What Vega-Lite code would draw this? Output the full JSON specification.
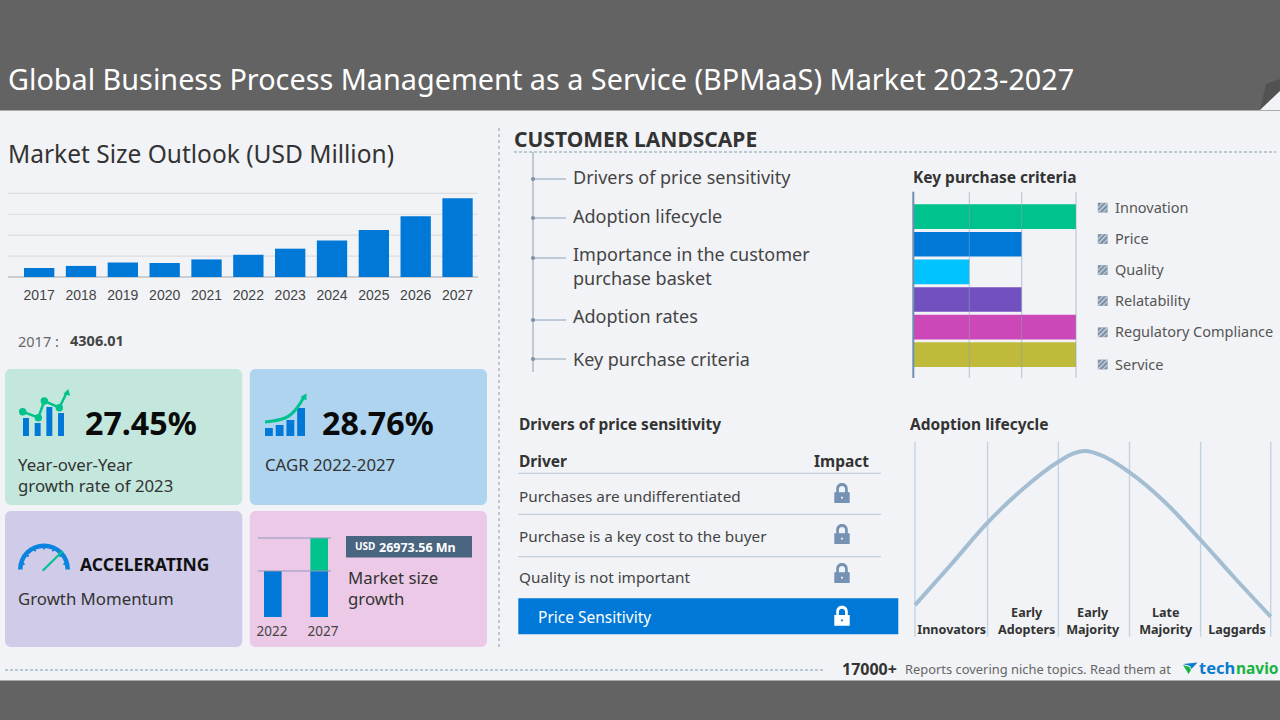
{
  "$schema": "https://vega.github.io/schema/vega-lite/v6.json",
  "width": 1280,
  "height": 720,
  "padding": 0,
  "autosize": "none",
  "background": "#636363",
  "view": {"stroke": null},
  "config": {"font": "Noto Sans", "text": {"align": "left", "baseline": "middle", "font": "Noto Sans", "dy": 1}},
  "resolve": {
    "scale": {"x": "independent", "y": "independent", "color": "independent"},
    "axis": {"x": "independent", "y": "independent"}
  },
  "layer": [
    {
      "data": {"values": [{"zone": "body"}]},
      "mark": {"type": "rect", "color": "#f2f3f6"},
      "encoding": {"y": {"field": "zone", "type": "nominal", "scale": {"range": [110.5, 680.5], "padding": 0}, "axis": null}}
    },
    {
      "data": {"values": [{"part": "flap"}]},
      "mark": {"type": "point", "filled": true, "opacity": 1, "size": 400, "strokeWidth": 0, "color": "#525252", "shape": "M-1,1.5 L-0.4,-1.1 L1,-1.6 L1,-0.4 Z"},
      "encoding": {
        "x": {"datum": 0, "scale": {"domain": [0, 1], "range": [1270, 1271]}, "axis": null},
        "y": {"datum": 0, "scale": {"domain": [0, 1], "range": [95, 96]}, "axis": null}
      }
    },
    {
      "data": {"values": [{"part": "corner"}]},
      "mark": {"type": "point", "filled": true, "opacity": 1, "size": 400, "strokeWidth": 0, "color": "#f2f3f6", "shape": "M-1,1 L1,-0.9 L1,1 Z"},
      "encoding": {
        "x": {"datum": 0, "scale": {"domain": [0, 1], "range": [1270, 1271]}, "axis": null},
        "y": {"datum": 0, "scale": {"domain": [0, 1], "range": [100, 101]}, "axis": null}
      }
    },
    {
      "data": {"values": [{"text": "Global Business Process Management as a Service (BPMaaS) Market 2023-2027"}]},
      "mark": {"type": "text", "fontSize": 28.8, "color": "#ffffff"},
      "encoding": {
        "x": {"datum": 0, "scale": {"domain": [0, 1], "range": [8, 9]}, "axis": null},
        "y": {"datum": 0, "scale": {"domain": [0, 1], "range": [80, 81]}, "axis": null},
        "text": {"field": "text"}
      }
    },
    {
      "data": {"values": [{"text": "Market Size Outlook (USD Million)"}]},
      "mark": {"type": "text", "fontSize": 24.5, "color": "#333333"},
      "encoding": {
        "x": {"datum": 0, "scale": {"domain": [0, 1], "range": [8, 9]}, "axis": null},
        "y": {"datum": 0, "scale": {"domain": [0, 1], "range": [154.5, 155.5]}, "axis": null},
        "text": {"field": "text"}
      }
    },
    {
      "data": {"values": [{"level": 10000}, {"level": 20000}, {"level": 30000}, {"level": 40000}]},
      "mark": {"type": "rule", "color": "#dcdde0", "strokeWidth": 1.2},
      "encoding": {
        "x": {"datum": 0, "scale": {"domain": [0, 1], "range": [8, 478]}, "axis": null},
        "x2": {"datum": 1},
        "y": {"field": "level", "type": "quantitative", "scale": {"domain": [0, 40000], "range": [277, 193.3]}, "axis": null}
      }
    },
    {
      "data": {"values": [{"level": 0}]},
      "mark": {"type": "rule", "color": "#cccdd0", "strokeWidth": 2},
      "encoding": {
        "x": {"datum": 0, "scale": {"domain": [0, 1], "range": [8, 478]}, "axis": null},
        "x2": {"datum": 1},
        "y": {"field": "level", "type": "quantitative", "scale": {"domain": [0, 40000], "range": [277, 193.3]}, "axis": null}
      }
    },
    {
      "data": {"values": [
        {"year": "2017", "size": 4306.01},
        {"year": "2018", "size": 5300},
        {"year": "2019", "size": 6900},
        {"year": "2020", "size": 6700},
        {"year": "2021", "size": 8400},
        {"year": "2022", "size": 10620},
        {"year": "2023", "size": 13535},
        {"year": "2024", "size": 17500},
        {"year": "2025", "size": 22500},
        {"year": "2026", "size": 29000},
        {"year": "2027", "size": 37594}
      ]},
      "mark": {"type": "bar", "color": "#0078d7"},
      "encoding": {
        "x": {
          "field": "year",
          "type": "nominal",
          "scale": {"range": [24, 472.7], "paddingInner": 0.275, "paddingOuter": 0},
          "axis": {"orient": "bottom", "offset": -443, "zindex": 1, "title": null, "domain": false, "ticks": false, "labelAngle": 0, "labelFont": "Liberation Sans", "labelFontSize": 14, "labelColor": "#444444", "labelPadding": 11}
        },
        "y": {"field": "size", "type": "quantitative", "scale": {"domain": [0, 40000], "range": [277, 193.3]}, "axis": null}
      }
    },
    {
      "data": {"values": [{"text": "2017 :"}]},
      "mark": {"type": "text", "fontSize": 14.5, "color": "#666666"},
      "encoding": {
        "x": {"datum": 0, "scale": {"domain": [0, 1], "range": [18, 19]}, "axis": null},
        "y": {"datum": 0, "scale": {"domain": [0, 1], "range": [342, 343]}, "axis": null},
        "text": {"field": "text"}
      }
    },
    {
      "data": {"values": [{"text": "4306.01"}]},
      "mark": {"type": "text", "fontSize": 14.5, "fontWeight": "bold", "color": "#444444"},
      "encoding": {
        "x": {"datum": 0, "scale": {"domain": [0, 1], "range": [70, 71]}, "axis": null},
        "y": {"datum": 0, "scale": {"domain": [0, 1], "range": [341, 342]}, "axis": null},
        "text": {"field": "text"}
      }
    },
    {
      "data": {"values": [
        {"col": "left", "row": "top", "card": "growth"},
        {"col": "right", "row": "top", "card": "cagr"},
        {"col": "left", "row": "bottom", "card": "momentum"},
        {"col": "right", "row": "bottom", "card": "increment"}
      ]},
      "mark": {"type": "rect", "cornerRadius": 6},
      "encoding": {
        "x": {"field": "col", "type": "nominal", "sort": ["left", "right"], "scale": {"range": [5, 487], "paddingInner": 0.0306, "paddingOuter": 0}, "axis": null},
        "y": {"field": "row", "type": "nominal", "sort": ["top", "bottom"], "scale": {"range": [369, 647], "paddingInner": 0.042, "paddingOuter": 0}, "axis": null},
        "color": {"field": "card", "type": "nominal", "scale": {"domain": ["growth", "cagr", "momentum", "increment"], "range": ["#c3e7dc", "#aed4ef", "#d0cbe9", "#ecc9e6"]}, "legend": null}
      }
    },
    {
      "data": {"values": [{"bar": "a", "level": 18}, {"bar": "b", "level": 13}, {"bar": "c", "level": 29}, {"bar": "d", "level": 23}]},
      "mark": {"type": "bar", "color": "#0078d7"},
      "encoding": {
        "x": {"field": "bar", "type": "nominal", "scale": {"range": [23, 64], "paddingInner": 0.49, "paddingOuter": 0}, "axis": null},
        "y": {"field": "level", "type": "quantitative", "scale": {"domain": [0, 50], "range": [436, 386]}, "axis": null}
      }
    },
    {
      "data": {"values": [{"step": 0, "level": 24.3}, {"step": 1, "level": 18.3}, {"step": 2, "level": 35}, {"step": 3, "level": 28.3}, {"step": 4, "level": 44}]},
      "mark": {"type": "line", "color": "#00c28c", "strokeWidth": 2.5},
      "encoding": {
        "x": {"field": "step", "type": "quantitative", "scale": {"domain": [0, 1, 2, 3, 4], "range": [22.7, 38.3, 44.3, 59.3, 67]}, "axis": null},
        "y": {"field": "level", "type": "quantitative", "scale": {"domain": [0, 50], "range": [436, 386]}, "axis": null}
      }
    },
    {
      "data": {"values": [{"step": 0, "level": 24.3}, {"step": 1, "level": 18.3}, {"step": 2, "level": 35}, {"step": 3, "level": 28.3}]},
      "mark": {"type": "point", "filled": true, "opacity": 1, "size": 55, "color": "#00c28c"},
      "encoding": {
        "x": {"field": "step", "type": "quantitative", "scale": {"domain": [0, 1, 2, 3, 4], "range": [22.7, 38.3, 44.3, 59.3, 67]}, "axis": null},
        "y": {"field": "level", "type": "quantitative", "scale": {"domain": [0, 50], "range": [436, 386]}, "axis": null}
      }
    },
    {
      "data": {"values": [{"tip": "growth"}]},
      "mark": {"type": "point", "filled": true, "opacity": 1, "size": 50, "shape": "triangle-up", "angle": 15, "color": "#00c28c"},
      "encoding": {
        "x": {"datum": 0, "scale": {"domain": [0, 1], "range": [67.5, 68.5]}, "axis": null},
        "y": {"datum": 0, "scale": {"domain": [0, 1], "range": [392, 393]}, "axis": null}
      }
    },
    {
      "data": {"values": [{"text": "27.45%", "col": 0}, {"text": "28.76%", "col": 1}]},
      "mark": {"type": "text", "fontSize": 32.2, "fontWeight": "bold", "color": "#0a0a0a"},
      "encoding": {
        "x": {"field": "col", "type": "quantitative", "scale": {"domain": [0, 1], "range": [85, 322]}, "axis": null},
        "y": {"datum": 0, "scale": {"domain": [0, 1], "range": [424, 425]}, "axis": null},
        "text": {"field": "text"}
      }
    },
    {
      "data": {"values": [
        {"text": "Year-over-Year", "col": 0, "line": 0},
        {"text": "growth rate of 2023", "col": 0, "line": 1},
        {"text": "CAGR  2022-2027", "col": 1, "line": 0},
        {"text": "Growth Momentum", "col": 0, "line": 3},
        {"text": "Market size", "col": 2, "line": 2},
        {"text": "growth", "col": 2, "line": 3}
      ]},
      "mark": {"type": "text", "fontSize": 16.8, "color": "#333333"},
      "encoding": {
        "x": {"field": "col", "type": "quantitative", "scale": {"domain": [0, 1, 2], "range": [18, 265, 348]}, "axis": null},
        "y": {"field": "line", "type": "quantitative", "scale": {"domain": [0, 1, 2, 3], "range": [465, 486, 578, 599]}, "axis": null},
        "text": {"field": "text"}
      }
    },
    {
      "data": {"values": [{"bar": "a", "level": 8}, {"bar": "b", "level": 11}, {"bar": "c", "level": 16}, {"bar": "d", "level": 28}]},
      "mark": {"type": "bar", "color": "#0078d7"},
      "encoding": {
        "x": {"field": "bar", "type": "nominal", "scale": {"range": [265, 305], "paddingInner": 0.27, "paddingOuter": 0}, "axis": null},
        "y": {"field": "level", "type": "quantitative", "scale": {"domain": [0, 50], "range": [436, 386]}, "axis": null}
      }
    },
    {
      "data": {"values": [{"step": 0, "level": 14}, {"step": 1, "level": 18}, {"step": 2, "level": 28}, {"step": 3, "level": 39}]},
      "mark": {"type": "line", "color": "#00c28c", "strokeWidth": 3, "interpolate": "monotone"},
      "encoding": {
        "x": {"field": "step", "type": "quantitative", "scale": {"domain": [0, 1, 2, 3], "range": [265, 285, 297, 304]}, "axis": null},
        "y": {"field": "level", "type": "quantitative", "scale": {"domain": [0, 50], "range": [436, 386]}, "axis": null}
      }
    },
    {
      "data": {"values": [{"tip": "cagr"}]},
      "mark": {"type": "point", "filled": true, "opacity": 1, "size": 50, "shape": "triangle-up", "angle": 30, "color": "#00c28c"},
      "encoding": {
        "x": {"datum": 0, "scale": {"domain": [0, 1], "range": [305, 306]}, "axis": null},
        "y": {"datum": 0, "scale": {"domain": [0, 1], "range": [396, 397]}, "axis": null}
      }
    },
    {
      "data": {"values": [{"dial": "momentum"}]},
      "mark": {"type": "arc", "theta": -1.57, "theta2": 1.57, "radius": 26, "radius2": 21.5, "color": "#0a84e0"},
      "encoding": {
        "x": {"datum": 0, "scale": {"domain": [0, 1], "range": [44, 45]}, "axis": null},
        "y": {"datum": 0, "scale": {"domain": [0, 1], "range": [569.5, 570.5]}, "axis": null}
      }
    },
    {
      "data": {"values": [{"tick": 0}, {"tick": 1}, {"tick": 2}, {"tick": 3}, {"tick": 4}, {"tick": 5}, {"tick": 6}]},
      "mark": {"type": "point", "filled": true, "opacity": 1, "size": 5, "strokeWidth": 0, "color": "#0a84e0"},
      "encoding": {
        "x": {"field": "tick", "type": "quantitative", "scale": {"domain": [0, 1, 2, 3, 4, 5, 6], "range": [23.7, 27.9, 35.1, 44, 52.9, 60.1, 64.3]}, "axis": null},
        "y": {"field": "tick", "type": "quantitative", "scale": {"domain": [0, 1, 2, 3, 4, 5, 6], "range": [564.1, 556, 550.5, 548.5, 550.5, 556, 564.1]}, "axis": null}
      }
    },
    {
      "data": {"values": [{"dial": "needle"}]},
      "mark": {"type": "rule", "color": "#00c28c", "strokeWidth": 2.2},
      "encoding": {
        "x": {"datum": 0, "scale": {"domain": [0, 1], "range": [42.7, 62.7]}, "axis": null},
        "x2": {"datum": 1},
        "y": {"datum": 0, "scale": {"domain": [0, 1], "range": [570.7, 551]}, "axis": null},
        "y2": {"datum": 1}
      }
    },
    {
      "data": {"values": [{"text": "ACCELERATING"}]},
      "mark": {"type": "text", "fontSize": 17.5, "fontWeight": "bold", "color": "#111111"},
      "encoding": {
        "x": {"datum": 0, "scale": {"domain": [0, 1], "range": [80, 81]}, "axis": null},
        "y": {"datum": 0, "scale": {"domain": [0, 1], "range": [565, 566]}, "axis": null},
        "text": {"field": "text"}
      }
    },
    {
      "data": {"values": [
        {"year": "2022", "part": "base", "from": 0, "to": 10620},
        {"year": "2027", "part": "base", "from": 0, "to": 10620},
        {"year": "2027", "part": "growth", "from": 10620, "to": 37594}
      ]},
      "mark": {"type": "bar"},
      "encoding": {
        "x": {"field": "year", "type": "nominal", "scale": {"range": [264, 328], "paddingInner": 0.62, "paddingOuter": 0}, "axis": null},
        "y": {"field": "from", "type": "quantitative", "scale": {"domain": [0, 10620, 37594], "range": [617, 571, 538]}, "axis": null},
        "y2": {"field": "to"},
        "color": {"field": "part", "type": "nominal", "scale": {"domain": ["base", "growth"], "range": ["#0078d7", "#00c28c"]}, "legend": null}
      }
    },
    {
      "data": {"values": [{"level": 10620}, {"level": 37594}]},
      "mark": {"type": "rule", "color": "#8f97bd", "strokeWidth": 1},
      "encoding": {
        "x": {"datum": 0, "scale": {"domain": [0, 1], "range": [258, 331]}, "axis": null},
        "x2": {"datum": 1},
        "y": {"field": "level", "type": "quantitative", "scale": {"domain": [0, 10620, 37594], "range": [617, 571, 538]}, "axis": null}
      }
    },
    {
      "data": {"values": [{"text": "2022", "col": 0}, {"text": "2027", "col": 1}]},
      "mark": {"type": "text", "fontSize": 13.5, "align": "center", "color": "#444444"},
      "encoding": {
        "x": {"field": "col", "type": "quantitative", "scale": {"domain": [0, 1], "range": [272, 323]}, "axis": null},
        "y": {"datum": 0, "scale": {"domain": [0, 1], "range": [631, 632]}, "axis": null},
        "text": {"field": "text"}
      }
    },
    {
      "data": {"values": [{"box": "increment"}]},
      "mark": {"type": "rect", "color": "#4a6580"},
      "encoding": {
        "x": {"field": "box", "type": "nominal", "scale": {"range": [346, 472], "padding": 0}, "axis": null},
        "y": {"field": "box", "type": "nominal", "scale": {"range": [536, 557.5], "padding": 0}, "axis": null}
      }
    },
    {
      "data": {"values": [{"text": "USD"}]},
      "mark": {"type": "text", "fontSize": 10, "fontWeight": "bold", "color": "#ffffff"},
      "encoding": {
        "x": {"datum": 0, "scale": {"domain": [0, 1], "range": [355, 356]}, "axis": null},
        "y": {"datum": 0, "scale": {"domain": [0, 1], "range": [546, 547]}, "axis": null},
        "text": {"field": "text"}
      }
    },
    {
      "data": {"values": [{"text": "26973.56 Mn"}]},
      "mark": {"type": "text", "fontSize": 12.5, "fontWeight": "bold", "color": "#ffffff"},
      "encoding": {
        "x": {"datum": 0, "scale": {"domain": [0, 1], "range": [379, 380]}, "axis": null},
        "y": {"datum": 0, "scale": {"domain": [0, 1], "range": [547, 548]}, "axis": null},
        "text": {"field": "text"}
      }
    },
    {
      "data": {"values": [{"divider": "panels"}]},
      "mark": {"type": "rule", "color": "#7f9fb0", "strokeWidth": 1, "strokeDash": [3, 3]},
      "encoding": {
        "x": {"datum": 0, "scale": {"domain": [0, 1], "range": [499, 500]}, "axis": null},
        "y": {"datum": 0, "scale": {"domain": [0, 1], "range": [128, 648]}, "axis": null},
        "y2": {"datum": 1}
      }
    },
    {
      "data": {"values": [{"from": 0, "to": 1, "at": 0}, {"from": 2, "to": 3, "at": 1}]},
      "mark": {"type": "rule", "color": "#7f9fb0", "strokeWidth": 1, "strokeDash": [3, 2]},
      "encoding": {
        "x": {"field": "from", "type": "quantitative", "scale": {"domain": [0, 1, 2, 3], "range": [514, 1276, 5, 825]}, "axis": null},
        "x2": {"field": "to"},
        "y": {"field": "at", "type": "quantitative", "scale": {"domain": [0, 1], "range": [152, 670]}, "axis": null}
      }
    },
    {
      "data": {"values": [{"text": "CUSTOMER  LANDSCAPE"}]},
      "mark": {"type": "text", "fontSize": 21, "fontWeight": "bold", "color": "#333333"},
      "encoding": {
        "x": {"datum": 0, "scale": {"domain": [0, 1], "range": [514, 515]}, "axis": null},
        "y": {"datum": 0, "scale": {"domain": [0, 1], "range": [140, 141]}, "axis": null},
        "text": {"field": "text"}
      }
    },
    {
      "data": {"values": [{"spine": "list"}]},
      "mark": {"type": "rule", "color": "#8ba0b5", "strokeWidth": 1},
      "encoding": {
        "x": {"datum": 0, "scale": {"domain": [0, 1], "range": [533, 534]}, "axis": null},
        "y": {"datum": 0, "scale": {"domain": [0, 1], "range": [152, 372]}, "axis": null},
        "y2": {"datum": 1}
      }
    },
    {
      "data": {"values": [{"item": 0}, {"item": 1}, {"item": 2}, {"item": 3}, {"item": 4}]},
      "mark": {"type": "rule", "color": "#8ba0b5", "strokeWidth": 1},
      "encoding": {
        "x": {"datum": 0, "scale": {"domain": [0, 1], "range": [533, 566]}, "axis": null},
        "x2": {"datum": 1},
        "y": {"field": "item", "type": "quantitative", "scale": {"domain": [0, 1, 2, 3, 4], "range": [179, 218, 258, 320, 359]}, "axis": null}
      }
    },
    {
      "data": {"values": [{"item": 0}, {"item": 1}, {"item": 2}, {"item": 3}, {"item": 4}]},
      "mark": {"type": "point", "filled": true, "opacity": 1, "size": 18, "color": "#7d93a9"},
      "encoding": {
        "x": {"datum": 0, "scale": {"domain": [0, 1], "range": [533, 534]}, "axis": null},
        "y": {"field": "item", "type": "quantitative", "scale": {"domain": [0, 1, 2, 3, 4], "range": [179, 218, 258, 320, 359]}, "axis": null}
      }
    },
    {
      "data": {"values": [
        {"text": "Drivers of price sensitivity", "line": 0},
        {"text": "Adoption lifecycle", "line": 1},
        {"text": "Importance in the customer", "line": 2},
        {"text": "purchase basket", "line": 3},
        {"text": "Adoption rates", "line": 4},
        {"text": "Key purchase criteria", "line": 5}
      ]},
      "mark": {"type": "text", "fontSize": 18, "color": "#444444"},
      "encoding": {
        "x": {"datum": 0, "scale": {"domain": [0, 1], "range": [573, 574]}, "axis": null},
        "y": {"field": "line", "type": "quantitative", "scale": {"domain": [0, 1, 2, 3, 4, 5], "range": [178, 217, 255, 279, 317, 360]}, "axis": null},
        "text": {"field": "text"}
      }
    },
    {
      "data": {"values": [
        {"criterion": "Innovation", "score": 3},
        {"criterion": "Price", "score": 2},
        {"criterion": "Quality", "score": 1},
        {"criterion": "Relatability", "score": 2},
        {"criterion": "Regulatory Compliance", "score": 3},
        {"criterion": "Service", "score": 3}
      ]},
      "mark": {"type": "bar"},
      "encoding": {
        "x": {"field": "score", "type": "quantitative", "scale": {"domain": [0, 1, 2, 3], "range": [913.3, 969.3, 1021.7, 1076]}, "axis": null},
        "y": {"field": "criterion", "type": "nominal", "sort": null, "scale": {"range": [204.3, 367], "paddingInner": 0.107, "paddingOuter": 0}, "axis": null},
        "color": {"field": "criterion", "type": "nominal", "sort": null, "scale": {"range": ["#00c28c", "#0078d7", "#00c3ff", "#7350c0", "#cc47b8", "#bfba3a"]}, "legend": null}
      }
    },
    {
      "data": {"values": [{"score": 1}, {"score": 2}, {"score": 3}]},
      "mark": {"type": "rule", "color": "#8ba0b5", "strokeWidth": 1, "opacity": 0.6},
      "encoding": {
        "x": {"field": "score", "type": "quantitative", "scale": {"domain": [0, 1, 2, 3], "range": [913.3, 969.3, 1021.7, 1076]}, "axis": null},
        "y": {"datum": 0, "scale": {"domain": [0, 1], "range": [191.7, 378]}, "axis": null},
        "y2": {"datum": 1}
      }
    },
    {
      "data": {"values": [{"score": 0}]},
      "mark": {"type": "rule", "color": "#6f8fb0", "strokeWidth": 2},
      "encoding": {
        "x": {"field": "score", "type": "quantitative", "scale": {"domain": [0, 1, 2, 3], "range": [913.3, 969.3, 1021.7, 1076]}, "axis": null},
        "y": {"datum": 0, "scale": {"domain": [0, 1], "range": [191.7, 378]}, "axis": null},
        "y2": {"datum": 1}
      }
    },
    {
      "data": {"values": [{"line": 0}, {"line": 1}, {"line": 2}, {"line": 3}, {"line": 4}, {"line": 5}]},
      "mark": {"type": "point", "filled": true, "opacity": 1, "size": 95, "shape": "square", "color": "#7f93a8"},
      "encoding": {
        "x": {"datum": 0, "scale": {"domain": [0, 1], "range": [1102.7, 1103.7]}, "axis": null},
        "y": {"field": "line", "type": "quantitative", "scale": {"domain": [0, 1, 2, 3, 4, 5], "range": [207.7, 239, 270, 301, 332.3, 364.5]}, "axis": null}
      }
    },
    {
      "data": {"values": [{"line": 0}, {"line": 1}, {"line": 2}, {"line": 3}, {"line": 4}, {"line": 5}]},
      "mark": {"type": "point", "filled": true, "opacity": 1, "size": 95, "strokeWidth": 0, "color": "#c9d2dc", "shape": "M-1,-0.1 L-0.1,-1 L0.2,-1 L-1,0.2 Z M-1,0.8 L0.8,-1 L1,-1 L1,-0.8 L-0.8,1 L-1,1 Z M-0.1,1 L1,-0.1 L1,0.2 L0.2,1 Z"},
      "encoding": {
        "x": {"datum": 0, "scale": {"domain": [0, 1], "range": [1102.7, 1103.7]}, "axis": null},
        "y": {"field": "line", "type": "quantitative", "scale": {"domain": [0, 1, 2, 3, 4, 5], "range": [207.7, 239, 270, 301, 332.3, 364.5]}, "axis": null}
      }
    },
    {
      "data": {"values": [
        {"text": "Innovation", "line": 0},
        {"text": "Price", "line": 1},
        {"text": "Quality", "line": 2},
        {"text": "Relatability", "line": 3},
        {"text": "Regulatory Compliance", "line": 4},
        {"text": "Service", "line": 5}
      ]},
      "mark": {"type": "text", "fontSize": 14.5, "color": "#555555"},
      "encoding": {
        "x": {"datum": 0, "scale": {"domain": [0, 1], "range": [1115, 1116]}, "axis": null},
        "y": {"field": "line", "type": "quantitative", "scale": {"domain": [0, 1, 2, 3, 4, 5], "range": [207.7, 239, 270, 301, 332.3, 364.5]}, "axis": null},
        "text": {"field": "text"}
      }
    },
    {
      "data": {"values": [
        {"text": "Key purchase criteria", "col": 0, "line": 0},
        {"text": "Drivers of price sensitivity", "col": 1, "line": 1},
        {"text": "Adoption lifecycle", "col": 2, "line": 1},
        {"text": "Driver", "col": 1, "line": 2},
        {"text": "Impact", "col": 3, "line": 2}
      ]},
      "mark": {"type": "text", "fontSize": 15.5, "fontWeight": "bold", "color": "#333333"},
      "encoding": {
        "x": {"field": "col", "type": "quantitative", "scale": {"domain": [0, 1, 2, 3], "range": [913, 519, 910, 814]}, "axis": null},
        "y": {"field": "line", "type": "quantitative", "scale": {"domain": [0, 1, 2], "range": [177, 424, 461]}, "axis": null},
        "text": {"field": "text"}
      }
    },
    {
      "data": {"values": [{"row": 0}, {"row": 1}, {"row": 2}]},
      "mark": {"type": "rule", "color": "#b8c9d9", "strokeWidth": 1},
      "encoding": {
        "x": {"datum": 0, "scale": {"domain": [0, 1], "range": [518, 881]}, "axis": null},
        "x2": {"datum": 1},
        "y": {"field": "row", "type": "quantitative", "scale": {"domain": [0, 1, 2], "range": [473.3, 514.3, 556.7]}, "axis": null}
      }
    },
    {
      "data": {"values": [
        {"text": "Purchases are undifferentiated", "row": 0},
        {"text": "Purchase is a key cost to the buyer", "row": 1},
        {"text": "Quality is not important", "row": 2}
      ]},
      "mark": {"type": "text", "fontSize": 15.3, "color": "#444444"},
      "encoding": {
        "x": {"datum": 0, "scale": {"domain": [0, 1], "range": [519, 520]}, "axis": null},
        "y": {"field": "row", "type": "quantitative", "scale": {"domain": [0, 1, 2], "range": [496, 536, 577]}, "axis": null},
        "text": {"field": "text"}
      }
    },
    {
      "data": {"values": [{"band": "Price Sensitivity"}]},
      "mark": {"type": "rect", "color": "#0078d7"},
      "encoding": {
        "x": {"field": "band", "type": "nominal", "scale": {"range": [518.3, 898.3], "padding": 0}, "axis": null},
        "y": {"field": "band", "type": "nominal", "scale": {"range": [598.3, 634.3], "padding": 0}, "axis": null}
      }
    },
    {
      "data": {"values": [{"text": "Price Sensitivity"}]},
      "mark": {"type": "text", "fontSize": 15.5, "color": "#ffffff"},
      "encoding": {
        "x": {"datum": 0, "scale": {"domain": [0, 1], "range": [538, 539]}, "axis": null},
        "y": {"datum": 0, "scale": {"domain": [0, 1], "range": [617, 618]}, "axis": null},
        "text": {"field": "text"}
      }
    },
    {
      "data": {"values": [{"row": 0}, {"row": 1}, {"row": 2}]},
      "mark": {"type": "point", "filled": true, "opacity": 1, "size": 372, "strokeWidth": 0, "color": "#7592b3", "shape": "M-0.8,-0.1 L-0.6,-0.1 L-0.6,-0.45 C-0.6,-1.27 0.6,-1.27 0.6,-0.45 L0.6,-0.1 L0.8,-0.1 L0.8,1 L-0.8,1 Z M-0.32,-0.1 L0.32,-0.1 L0.32,-0.45 C0.32,-0.85 -0.32,-0.85 -0.32,-0.45 Z M0,0.3 L-0.13,0.45 L0,0.6 L0.13,0.45 Z"},
      "encoding": {
        "x": {"datum": 0, "scale": {"domain": [0, 1], "range": [842, 843]}, "axis": null},
        "y": {"field": "row", "type": "quantitative", "scale": {"domain": [0, 1, 2], "range": [493.3, 534.3, 573.3]}, "axis": null}
      }
    },
    {
      "data": {"values": [{"row": "Price Sensitivity"}]},
      "mark": {"type": "point", "filled": true, "opacity": 1, "size": 372, "strokeWidth": 0, "color": "#ffffff", "shape": "M-0.8,-0.1 L-0.6,-0.1 L-0.6,-0.45 C-0.6,-1.27 0.6,-1.27 0.6,-0.45 L0.6,-0.1 L0.8,-0.1 L0.8,1 L-0.8,1 Z M-0.32,-0.1 L0.32,-0.1 L0.32,-0.45 C0.32,-0.85 -0.32,-0.85 -0.32,-0.45 Z M0,0.3 L-0.13,0.45 L0,0.6 L0.13,0.45 Z"},
      "encoding": {
        "x": {"datum": 0, "scale": {"domain": [0, 1], "range": [842, 843]}, "axis": null},
        "y": {"datum": 0, "scale": {"domain": [0, 1], "range": [616, 617]}, "axis": null}
      }
    },
    {
      "data": {"values": [{"stage": 0}, {"stage": 20.4}, {"stage": 40.3}, {"stage": 60.3}, {"stage": 80.3}, {"stage": 100}]},
      "mark": {"type": "rule", "color": "#c3d3e2", "strokeWidth": 1.4},
      "encoding": {
        "x": {"field": "stage", "type": "quantitative", "scale": {"domain": [0, 100], "range": [915, 1270.7]}, "axis": null},
        "y": {"datum": 0, "scale": {"domain": [0, 100], "range": [636.7, 441.7]}, "axis": null},
        "y2": {"datum": 100}
      }
    },
    {
      "data": {"values": [
        {"t": 0, "adoption": 16.2},
        {"t": 9.9, "adoption": 36.5},
        {"t": 20.4, "adoption": 58.5},
        {"t": 30.5, "adoption": 76},
        {"t": 40.3, "adoption": 89.7},
        {"t": 44.6, "adoption": 94},
        {"t": 47.9, "adoption": 95.2},
        {"t": 52.1, "adoption": 93.2},
        {"t": 60.3, "adoption": 84.3},
        {"t": 70, "adoption": 69.5},
        {"t": 80.3, "adoption": 49.6},
        {"t": 89.7, "adoption": 30.5},
        {"t": 100, "adoption": 10.3}
      ]},
      "mark": {"type": "line", "color": "#a3bdd3", "strokeWidth": 4, "interpolate": "monotone"},
      "encoding": {
        "x": {"field": "t", "type": "quantitative", "scale": {"domain": [0, 100], "range": [915, 1270.7]}, "axis": null},
        "y": {"field": "adoption", "type": "quantitative", "scale": {"domain": [0, 100], "range": [636.7, 441.7]}, "axis": null}
      }
    },
    {
      "data": {"values": [
        {"text": "Innovators", "col": 0, "line": 1},
        {"text": "Early", "col": 1, "line": 0},
        {"text": "Adopters", "col": 1, "line": 1},
        {"text": "Early", "col": 2, "line": 0},
        {"text": "Majority", "col": 2, "line": 1},
        {"text": "Late", "col": 3, "line": 0},
        {"text": "Majority", "col": 3, "line": 1},
        {"text": "Laggards", "col": 4, "line": 1}
      ]},
      "mark": {"type": "text", "fontSize": 12.6, "fontWeight": "bold", "align": "center", "color": "#333333"},
      "encoding": {
        "x": {"field": "col", "type": "quantitative", "scale": {"domain": [0, 1, 2, 3, 4], "range": [951.7, 1026.7, 1092.7, 1165.7, 1237]}, "axis": null},
        "y": {"field": "line", "type": "quantitative", "scale": {"domain": [0, 1], "range": [612, 629]}, "axis": null},
        "text": {"field": "text"}
      }
    },
    {
      "data": {"values": [{"text": "17000+"}]},
      "mark": {"type": "text", "fontSize": 16, "fontWeight": "bold", "color": "#333333"},
      "encoding": {
        "x": {"datum": 0, "scale": {"domain": [0, 1], "range": [842, 843]}, "axis": null},
        "y": {"datum": 0, "scale": {"domain": [0, 1], "range": [669, 670]}, "axis": null},
        "text": {"field": "text"}
      }
    },
    {
      "data": {"values": [{"text": "Reports covering niche topics. Read them at"}]},
      "mark": {"type": "text", "fontSize": 12.9, "color": "#666666"},
      "encoding": {
        "x": {"datum": 0, "scale": {"domain": [0, 1], "range": [905, 906]}, "axis": null},
        "y": {"datum": 0, "scale": {"domain": [0, 1], "range": [669, 670]}, "axis": null},
        "text": {"field": "text"}
      }
    },
    {
      "data": {"values": [{"logo": "wing"}]},
      "mark": {"type": "point", "filled": true, "opacity": 1, "size": 100, "strokeWidth": 0, "color": "#0a7ccd", "shape": "M-1,-0.7 L1.9,-1 L0.7,0.3 L0.4,-0.3 Z"},
      "encoding": {
        "x": {"datum": 0, "scale": {"domain": [0, 1], "range": [1188, 1189]}, "axis": null},
        "y": {"datum": 0, "scale": {"domain": [0, 1], "range": [667.5, 668.5]}, "axis": null}
      }
    },
    {
      "data": {"values": [{"logo": "tail"}]},
      "mark": {"type": "point", "filled": true, "opacity": 1, "size": 100, "strokeWidth": 0, "color": "#18b441", "shape": "M-1,-0.5 L0.3,-0.1 L0.6,0.5 L0.1,1.3 Z"},
      "encoding": {
        "x": {"datum": 0, "scale": {"domain": [0, 1], "range": [1188, 1189]}, "axis": null},
        "y": {"datum": 0, "scale": {"domain": [0, 1], "range": [667.5, 668.5]}, "axis": null}
      }
    },
    {
      "data": {"values": [{"text": "tech"}]},
      "mark": {"type": "text", "fontSize": 16.5, "fontWeight": "bold", "color": "#0a7ccd"},
      "encoding": {
        "x": {"datum": 0, "scale": {"domain": [0, 1], "range": [1199, 1200]}, "axis": null},
        "y": {"datum": 0, "scale": {"domain": [0, 1], "range": [667.5, 668.5]}, "axis": null},
        "text": {"field": "text"}
      }
    },
    {
      "data": {"values": [{"text": "navio"}]},
      "mark": {"type": "text", "fontSize": 15.5, "fontWeight": "bold", "color": "#18b441"},
      "encoding": {
        "x": {"datum": 0, "scale": {"domain": [0, 1], "range": [1236, 1237]}, "axis": null},
        "y": {"datum": 0, "scale": {"domain": [0, 1], "range": [667.5, 668.5]}, "axis": null},
        "text": {"field": "text"}
      }
    }
  ]
}
